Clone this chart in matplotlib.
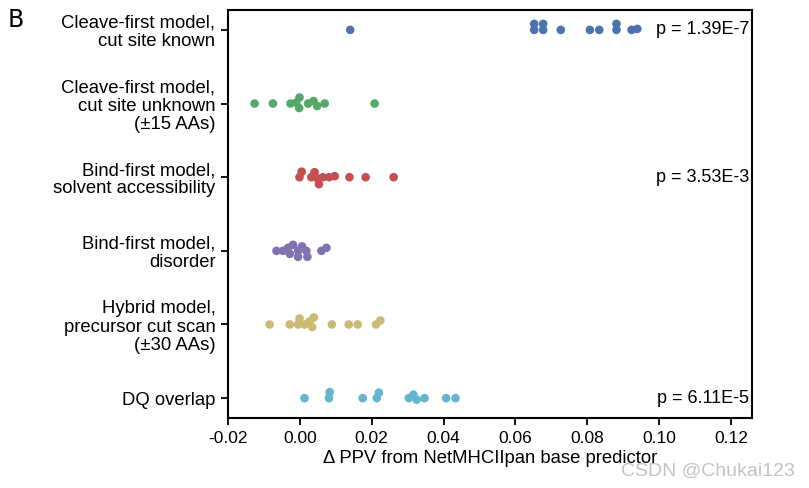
import matplotlib
matplotlib.use('Agg')
import matplotlib.pyplot as plt
import numpy as np

# model names (y categories) and delta PPV values
models = ['Cleave-first model,\ncut site known',
          'Cleave-first model,\ncut site unknown\n(\u00b115 AAs)',
          'Bind-first model,\nsolvent accessibility',
          'Bind-first model,\ndisorder',
          'Hybrid model,\nprecursor cut scan\n(\u00b130 AAs)',
          'DQ overlap']

cleave_known = [0.0140, 0.0652, 0.0652, 0.0677, 0.0677, 0.0726, 0.0807,
                0.0833, 0.0881, 0.0881, 0.0923, 0.0939]
cleave_unknown = [-0.0126, -0.0075, -0.0026, -0.0010, -0.0001, -0.0002,
                  0.0023, 0.0038, 0.0048, 0.0069, 0.0208]
bind_solvent = [0.0005, -0.0001, 0.0032, 0.0041, 0.0048, 0.0053, 0.0064,
                0.0081, 0.0097, 0.0138, 0.0183, 0.0261]
bind_disorder = [-0.0065, -0.0047, -0.0033, -0.0028, -0.0019, -0.0005,
                 -0.0005, 0.0006, 0.0021, 0.0018, 0.0060, 0.0074]
hybrid = [-0.0084, -0.0028, -0.0005, -0.0001, 0.0013, 0.0027, 0.0039,
          0.0034, 0.0089, 0.0136, 0.0161, 0.0212, 0.0224]
dq_overlap = [0.0013, 0.0083, 0.0081, 0.0175, 0.0220, 0.0214, 0.0303,
              0.0316, 0.0325, 0.0347, 0.0407, 0.0433]

pvalues = {0: 'p = 1.39E-7', 2: 'p = 3.53E-3', 5: 'p = 6.11E-5'}
xticks = [-0.02, 0.00, 0.02, 0.04, 0.06, 0.08, 0.10, 0.12]

colours = ['#4C72B0', '#55A868', '#C44E52', '#8172B2', '#CCB974', '#64B5CD']

plt.rcParams['font.family'] = ['Liberation Sans', 'DejaVu Sans']

series = [cleave_known, cleave_unknown, bind_solvent, bind_disorder, hybrid, dq_overlap]

fig = plt.figure(figsize=(8.09, 4.88), dpi=100)
ax = fig.add_axes([0.2818, 0.1434, 0.6477, 0.8361])
ax.set_xlim(-0.02, 0.1258)
ax.set_ylim(5.27, -0.27)

# simple beeswarm, done in pixel space so the dots overlap a little like the original
dot_px = 8.6
min_gap = 5.8
marker_pt = dot_px * 72.0 / fig.dpi
fig.canvas.draw()
for i, (vals, col) in enumerate(zip(series, colours)):
    vals = np.array(vals)
    pix = ax.transData.transform(np.column_stack([vals, np.full(len(vals), i)]))
    placed = []
    offsets = np.zeros(len(vals))
    cands = [0.0]
    for k in range(1, 40):
        cands += [0.5 * k, -0.5 * k]   # up first (display y grows upward)
    for j in np.argsort(vals):
        xj = pix[j, 0]
        for off in cands:
            ok = True
            for (xp, yp) in placed:
                if (xj - xp) ** 2 + (off - yp) ** 2 < min_gap ** 2:
                    ok = False
                    break
            if ok:
                break
        placed.append((xj, off))
        offsets[j] = off
    pts = np.column_stack([pix[:, 0], pix[:, 1] + offsets])
    data_pts = ax.transData.inverted().transform(pts)
    ax.scatter(vals, data_pts[:, 1], s=marker_pt ** 2, color=col,
               edgecolors='none', zorder=3)

ax.set_xticks(xticks)
ax.set_xticklabels(['%.2f' % t for t in xticks])
ax.set_yticks(range(len(models)))
ax.set_yticklabels(models, fontsize=13.3, linespacing=1.08)
ax.set_xlabel('\u0394 PPV from NetMHCIIpan base predictor', fontsize=13.3, labelpad=3)
ax.tick_params(axis='x', labelsize=12.5, length=5, width=1.3, direction='out', pad=4)
ax.tick_params(axis='y', length=5, width=1.3, direction='out', pad=4)
for sp in ax.spines.values():
    sp.set_linewidth(1.5)
    sp.set_color('black')

for row, txt in pvalues.items():
    ax.text(0.1250, row, txt, ha='right', va='center', fontsize=13)

fig.text(0.01, 0.958, 'B', fontsize=17, family='DejaVu Sans', va='center')
fig.text(0.983, 0.035, 'CSDN @Chukai123', fontsize=14, color='#c4c4c4', ha='right', va='center')

fig.savefig('out.png', dpi=100)
